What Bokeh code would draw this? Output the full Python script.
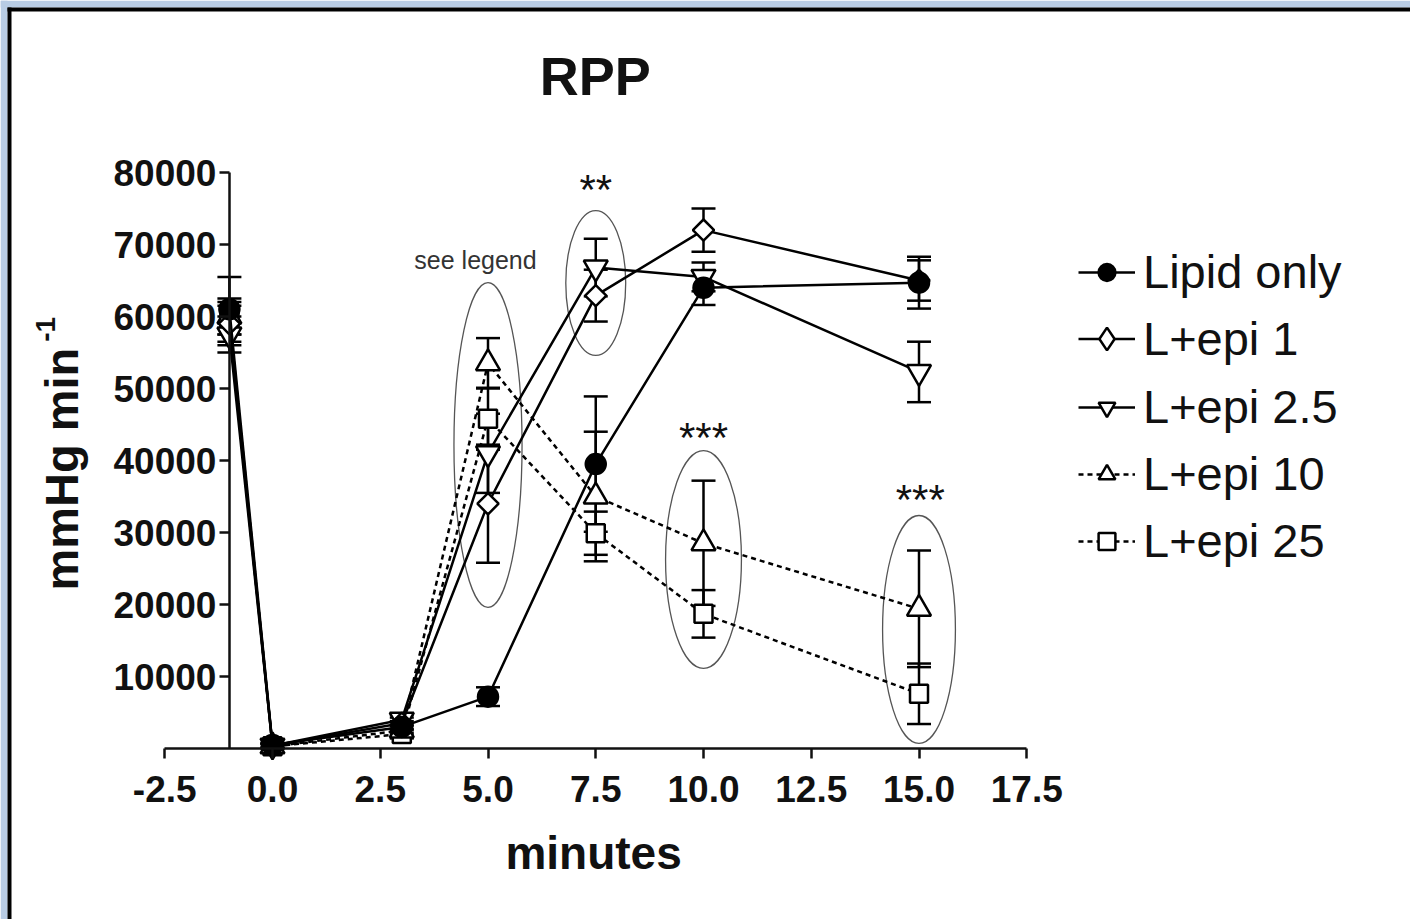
from bokeh.plotting import figure
from bokeh.models import (ColumnDataSource, Whisker, TeeHead, Legend, LegendItem, Label,
                          FixedTicker, NumeralTickFormatter, Range1d, BoxAnnotation,
                          LinearAxis)
from bokeh.embed import file_html
from bokeh.resources import INLINE

# --- data: rate-pressure product (mean and SEM) per group ---
minutes = [-1, 0, 3, 5, 7.5, 10, 15]

lipid_only = [61000, 500, 3000, 7200, 39500, 64000, 64700]
lipid_only_sem = [4500, 300, 800, 1300, 9400, 2400, 3600]

epi_1 = [59000, 400, 3500, 34000, 62900, 72000, 65000]
epi_1_sem = [3000, 300, 800, 8200, 3600, 3000, 2800]

epi_2_5 = [57500, 400, 4000, 41000, 66800, 65500, 52300]
epi_2_5_sem = [2500, 300, 700, 5500, 4000, 2000, 4200]

epi_10 = [60000, 300, 2500, 53500, 35000, 28500, 19400]
epi_10_sem = [2500, 300, 600, 3500, 9000, 8700, 8100]

epi_25 = [59500, 300, 2000, 45800, 29900, 18700, 7600]
epi_25_sem = [2000, 300, 600, 4300, 3000, 3300, 4200]

group_names = ["Lipid only", "L+epi 1", "L+epi 2.5", "L+epi 10", "L+epi 25"]

x_ticks = [-2.5, 0.0, 2.5, 5.0, 7.5, 10.0, 12.5, 15.0, 17.5]
y_ticks = [10000, 20000, 30000, 40000, 50000, 60000, 70000, 80000]

# significance groupings (ellipses) and star labels
ring_x = [5, 7.5, 10, 15]
ring_y = [42150, 64650, 26250, 16530]
ring_w = [1.58, 1.39, 1.76, 1.69]
ring_h = [45100, 20100, 30300, 31700]

star_x = [7.5, 10, 15.03]
star_y = [77700, 43200, 34600]
star_text = ["**", "***", "***"]

FONT = "Liberation Sans"
INK = "#111111"
W, H = 1410, 919

p = figure(width=W, height=H, output_backend="svg", toolbar_location=None,
           x_range=Range1d(-272 / 43.1, (W - 272) / 43.1),
           y_range=Range1d((748 - H) / 0.0072, 748 / 0.0072),
           x_axis_type=None, y_axis_type=None,
           min_border=0, min_border_left=0, min_border_right=0,
           min_border_top=0, min_border_bottom=0)
p.outline_line_color = None
p.background_fill_color = "white"
p.border_fill_color = "white"
p.xgrid.visible = False
p.ygrid.visible = False


def style_axis(ax):
    ax.axis_line_width = 2.5
    ax.axis_line_color = INK
    ax.major_tick_line_width = 2.5
    ax.major_tick_line_color = INK
    ax.major_tick_out = 10
    ax.major_tick_in = 0
    ax.minor_tick_out = 0
    ax.minor_tick_in = 0
    ax.major_label_text_font = FONT
    ax.major_label_text_font_style = "bold"
    ax.major_label_text_font_size = "37px"
    ax.major_label_text_color = INK


xaxis = LinearAxis(ticker=FixedTicker(ticks=x_ticks),
                   formatter=NumeralTickFormatter(format="0.0"),
                   fixed_location=0, bounds=(-2.5, 17.5))
style_axis(xaxis)
xaxis.major_label_standoff = 17
p.add_layout(xaxis, "below")

yaxis = LinearAxis(ticker=FixedTicker(ticks=y_ticks),
                   formatter=NumeralTickFormatter(format="0"),
                   fixed_location=-1, bounds=(0, 80000))
style_axis(yaxis)
yaxis.major_label_standoff = 3
p.add_layout(yaxis, "left")

# grouping ellipses
p.ellipse(x=ring_x, y=ring_y, width=ring_w, height=ring_h,
          fill_color=None, line_color="#555555", line_width=1.3)

# (values, sem, marker, size, fill, dash, angle)
series = [
    (lipid_only, lipid_only_sem, "circle", 20, "black", "solid", 0.0),
    (epi_1, epi_1_sem, "square", 15, "white", "solid", 0.785398),
    (epi_2_5, epi_2_5_sem, "inverted_triangle", 24, "white", "solid", 0.0),
    (epi_10, epi_10_sem, "triangle", 24, "white", "5 4", 0.0),
    (epi_25, epi_25_sem, "square", 18, "white", "5 4", 0.0),
]

sources = []
for vals, sem, *_ in series:
    sources.append(ColumnDataSource(dict(
        x=minutes, y=vals,
        upper=[v + e for v, e in zip(vals, sem)],
        lower=[v - e for v, e in zip(vals, sem)],
    )))

# error bars beneath everything else
for src in sources:
    p.add_layout(Whisker(source=src, base="x", upper="upper", lower="lower",
                         line_color="black", line_width=2.5, level="underlay",
                         upper_head=TeeHead(size=24, line_width=2.5, line_color="black"),
                         lower_head=TeeHead(size=24, line_width=2.5, line_color="black")))

# the legend cannot rotate markers, so the "L+epi 1" key uses a diamond glyph
# drawn at zero size in the plot (the legend sizes its own key markers)
key_diamond = p.scatter("x", "y", source=sources[1], marker="diamond", size=0,
                        fill_color="white", line_color="black", line_width=2.5)

# draw the last group first so that "Lipid only" ends up on top
renderers = {}
for name, src, (vals, sem, marker, size, fill, dash, ang) in reversed(
        list(zip(group_names, sources, series))):
    ln = p.line("x", "y", source=src, line_color="black", line_width=2.5, line_dash=dash)
    sc = p.scatter("x", "y", source=src, marker=marker, size=size, angle=ang,
                   fill_color=fill, line_color="black", line_width=2.5)
    renderers[name] = [ln, sc]

legend_style = dict(label_text_font=FONT, label_text_font_size="47px",
                    label_text_color=INK, glyph_width=57, label_height=54,
                    padding=0, margin=0, label_standoff=8,
                    border_line_alpha=0, background_fill_alpha=0)

p.add_layout(Legend(items=[LegendItem(label=group_names[0], renderers=renderers[group_names[0]])],
                    location=(1078, 620), glyph_height=42, spacing=12, **legend_style))
p.add_layout(Legend(items=[LegendItem(label=group_names[1],
                                      renderers=[renderers[group_names[1]][0], key_diamond])],
                    location=(1078, 552), glyph_height=57, spacing=12, **legend_style))
p.add_layout(Legend(items=[LegendItem(label=n, renderers=renderers[n]) for n in group_names[2:]],
                    location=(1078, 351), glyph_height=42, spacing=12, **legend_style))

# significance stars
for sx, sy, st in zip(star_x, star_y, star_text):
    p.add_layout(Label(x=sx, y=sy, text=st, text_align="center",
                       text_baseline="alphabetic", text_font=FONT,
                       text_font_size="42px", text_color=INK))

p.add_layout(Label(x=4.71, y=67780, text="see legend", text_align="center",
                   text_baseline="middle", text_font=FONT,
                   text_font_size="25px", text_color="#333333"))

# title and axis titles
p.add_layout(Label(x=7.49, y=93470, text="RPP", text_align="center",
                   text_baseline="alphabetic", text_font=FONT,
                   text_font_style="bold", text_font_size="54px", text_color=INK))
p.add_layout(Label(x=7.45, y=-14580, text="minutes", text_align="center",
                   text_baseline="alphabetic", text_font=FONT,
                   text_font_style="bold", text_font_size="46px", text_color=INK))
p.add_layout(Label(x=-4.89, y=21940, text="mmHg min", angle=1.5708,
                   text_align="left", text_baseline="alphabetic", text_font=FONT,
                   text_font_style="bold", text_font_size="47px", text_color=INK))
p.add_layout(Label(x=-5.27, y=56500, text="-1", angle=1.5708,
                   text_align="left", text_baseline="alphabetic", text_font=FONT,
                   text_font_style="bold", text_font_size="28px", text_color=INK))

# window frame: light blue band with a black rule along top and left
for kw in (dict(left=0, right=W, bottom=H - 7, top=H, fill_color="#b8cce4"),
           dict(left=0, right=7, bottom=0, top=H, fill_color="#b8cce4"),
           dict(left=7, right=W, bottom=H - 11, top=H - 7, fill_color="black"),
           dict(left=7, right=11, bottom=0, top=H - 7, fill_color="black")):
    p.add_layout(BoxAnnotation(left_units="screen", right_units="screen",
                               top_units="screen", bottom_units="screen",
                               fill_alpha=1, line_alpha=0, **kw))

open("out.html", "w").write(file_html(p, INLINE))
